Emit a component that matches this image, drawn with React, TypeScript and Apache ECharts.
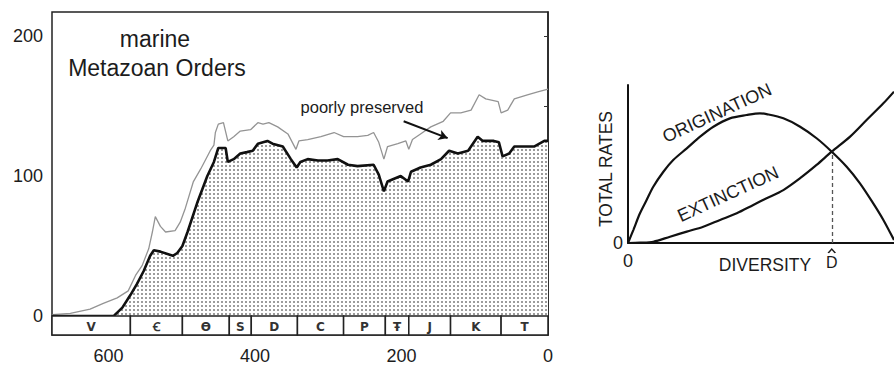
import React, { useEffect, useRef } from "react";
import * as echarts from "echarts";

// ---------- Left panel: marine Metazoan orders through time ----------
const ageTicks = [0, 200, 400, 600];
const orderTicks = [0, 50, 100, 150, 200];
const orderLabels = [0, 100, 200];

// [age (Ma), number of orders] – well-preserved (bold, stippled)
const wellPreserved: [number, number][] = [
  [677, 0], [593, 0], [581, 6], [570, 15], [561, 23], [552, 32], [543, 43], [538, 47],
  [529, 46], [512, 43], [506, 45], [499, 50], [492, 60], [478, 82], [465, 100], [456, 110],
  [450, 120], [440, 120], [437, 110], [429, 112], [420, 116], [411, 117], [403, 118],
  [396, 123], [383, 125], [376, 123], [362, 121], [351, 112], [343, 106], [338, 110],
  [328, 112], [314, 111], [301, 111], [287, 112], [273, 108], [260, 107], [238, 108],
  [231, 101], [224, 89], [219, 96], [210, 98], [201, 100], [191, 96], [187, 103],
  [174, 106], [160, 108], [146, 112], [135, 118], [123, 116], [109, 118], [96, 128],
  [89, 125], [74, 125], [67, 124], [62, 114], [53, 116], [46, 121], [33, 121], [19, 121],
  [5, 125], [0, 125],
];

// [age (Ma), number of orders] – including poorly preserved (thin grey)
const totalOrders: [number, number][] = [
  [677, 1], [652, 2], [625, 5], [607, 9], [588, 13], [573, 18], [563, 29], [554, 36],
  [545, 48], [540, 60], [536, 71], [529, 64], [522, 60], [509, 61], [502, 67], [495, 77],
  [484, 96], [474, 105], [461, 118], [456, 122], [454, 131], [450, 137], [443, 138],
  [437, 125], [429, 128], [420, 132], [406, 133], [396, 138], [389, 137], [381, 138],
  [369, 135], [355, 130], [344, 119], [340, 125], [328, 126], [310, 128], [292, 131],
  [279, 128], [260, 128], [246, 129], [238, 131], [231, 124], [224, 112], [219, 121],
  [205, 123], [194, 125], [190, 119], [185, 126], [174, 130], [160, 135], [143, 139],
  [133, 145], [119, 145], [105, 147], [94, 158], [85, 155], [68, 153], [64, 145],
  [55, 147], [46, 155], [27, 158], [14, 160], [0, 162],
];

const periodNames = ["V", "Ꞓ", "Ɵ", "S", "D", "C", "P", "Ŧ", "J", "K", "T"];
const periodStarts = [677, 570, 499, 435, 405, 342, 279, 222, 190, 133, 64];
const periodEnds = [570, 499, 435, 405, 342, 279, 222, 190, 133, 64, 0];

const arrowFrom: [number, number] = [197, 139];
const arrowTo: [number, number] = [137, 127];

// ---------- Right panel: origination / extinction vs diversity ----------
const originationPts: [number, number][] = [
  [0, 0], [2, 8.2], [4.5, 18.8], [7, 27.2], [9.5, 35.6], [13.3, 45.1], [17, 52.5],
  [22.1, 59.9], [27.1, 67.3], [32.1, 73.6], [38.3, 78.9], [44.6, 81.0], [49.6, 82.1],
  [52.1, 81.6], [58.4, 78.9], [64.7, 73.6], [70.9, 66.3], [76.6, 57.8], [82.2, 48.3],
  [87.2, 37.8], [92.2, 25.1], [96, 14.6], [100, 1.9],
];
const extinctionPts: [number, number][] = [
  [0, 0], [4.5, 0.2], [9.5, 0.8], [15.8, 4.0], [22.1, 7.2], [28.3, 10.3], [34.6, 14.6],
  [40.9, 18.8], [47.1, 24.1], [52.1, 28.3], [58.4, 33.5], [64.7, 41.0], [70.9, 49.4],
  [76.6, 57.8], [83.5, 67.3], [89.7, 77.8], [96, 88.4], [100, 95.8],
];
const equilibrium: [number, number] = [76.6, 57.8];

const BAND_BOTTOM = -13.5;
const TXT = "#1c1c1c";
const SANS = '"Liberation Sans", Arial, sans-serif';

export default function App() {
  const ref = useRef<HTMLDivElement>(null);

  useEffect(() => {
    if (!ref.current) return;
    const chart = echarts.init(ref.current, undefined, { renderer: "svg" });

    const tile = document.createElement("canvas");
    tile.width = 4;
    tile.height = 4;
    const ctx = tile.getContext("2d")!;
    ctx.fillStyle = "#ffffff";
    ctx.fillRect(0, 0, 4, 4);
    ctx.fillStyle = "#9c9c9c";
    ctx.fillRect(1, 1, 2, 2);

    const option: any = {
      animation: false,
      backgroundColor: "#ffffff",
      textStyle: { fontFamily: SANS },
      grid: [
        {
          left: 52, top: 12, width: 496, height: 325,
          show: true, borderColor: "#222", borderWidth: 1.5, backgroundColor: "transparent",
        },
        { left: 628, top: 85, width: 266, height: 158 },
      ],
      xAxis: [
        {
          gridIndex: 0, type: "value", min: 0, max: 677, inverse: true,
          axisLine: { show: false },
          splitLine: { show: false },
          axisTick: { show: true, length: 3, lineStyle: { color: "#333" }, customValues: [200, 400, 600] },
          axisLabel: {
            customValues: ageTicks, margin: 12, fontSize: 18, color: TXT, fontFamily: SANS,
            formatter: (v: number) => (ageTicks.includes(v) ? String(v) : ""),
          },
        },
        {
          gridIndex: 1, type: "value", min: 0, max: 100,
          axisLine: { show: true, onZero: false, lineStyle: { color: "#111", width: 2 } },
          splitLine: { show: false },
          axisTick: { show: false },
          axisLabel: {
            customValues: [0], margin: 9, fontSize: 18, color: TXT, fontFamily: SANS,
            formatter: (v: number) => (v === 0 ? "0" : ""),
          },
        },
      ],
      yAxis: [
        {
          gridIndex: 0, type: "value", min: BAND_BOTTOM, max: 217,
          axisLine: { show: true, lineStyle: { color: "#222", width: 1.5 } },
          splitLine: { show: false },
          axisTick: { show: true, length: 4, lineStyle: { color: "#333" }, customValues: orderTicks },
          axisLabel: {
            customValues: orderLabels, margin: 9, fontSize: 18, color: TXT, fontFamily: SANS,
            formatter: (v: number) => (orderLabels.includes(v) ? String(v) : ""),
          },
        },
        {
          gridIndex: 1, type: "value", min: 0, max: 100,
          axisLine: { show: true, onZero: false, lineStyle: { color: "#111", width: 2 } },
          splitLine: { show: false },
          axisTick: { show: false },
          axisLabel: {
            customValues: [0], margin: 5, fontSize: 18, color: TXT, fontFamily: SANS,
            formatter: (v: number) => (v === 0 ? "0" : ""),
          },
        },
      ],
      series: [
        {
          type: "custom",
          xAxisIndex: 0, yAxisIndex: 0,
          clip: false,
          z: 5,
          data: periodStarts.map((s, i) => [s, periodEnds[i], i]),
          encode: { x: [0, 1] },
          renderItem: (params: any, api: any) => {
            const s = api.value(0);
            const e = api.value(1);
            const idx = api.value(2);
            const p1 = api.coord([s, 0]);
            const p2 = api.coord([e, BAND_BOTTOM]);
            return {
              type: "group",
              children: [
                {
                  type: "rect",
                  shape: { x: p1[0], y: p1[1], width: p2[0] - p1[0], height: p2[1] - p1[1] },
                  style: { fill: "#ffffff", stroke: "#222", lineWidth: 1.5 },
                },
                {
                  type: "text",
                  style: {
                    text: periodNames[idx],
                    x: (p1[0] + p2[0]) / 2,
                    y: (p1[1] + p2[1]) / 2 + 1,
                    align: "center",
                    verticalAlign: "middle",
                    font: 'bold 12px "DejaVu Sans", sans-serif',
                    fill: "#333",
                  },
                },
              ],
            };
          },
        },
        {
          name: "total",
          type: "line",
          xAxisIndex: 0, yAxisIndex: 0,
          data: totalOrders,
          symbol: "none",
          lineStyle: { color: "#949494", width: 1.3 },
          z: 3,
          markLine: {
            silent: true,
            symbol: ["none", "arrow"],
            symbolSize: [8, 9],
            label: { show: false },
            lineStyle: { color: "#111", width: 2, type: "solid" },
            data: [[{ coord: arrowFrom }, { coord: arrowTo }]],
          },
        },
        {
          name: "well preserved",
          type: "line",
          xAxisIndex: 0, yAxisIndex: 0,
          data: wellPreserved,
          symbol: "none",
          lineStyle: { color: "#111", width: 2.6 },
          areaStyle: { origin: 0, color: { image: tile, repeat: "repeat" }, opacity: 1 },
          z: 4,
        },
        {
          name: "origination",
          type: "line",
          xAxisIndex: 1, yAxisIndex: 1,
          data: originationPts,
          smooth: 0.3,
          symbol: "none",
          clip: true,
          lineStyle: { color: "#111", width: 2.2 },
        },
        {
          name: "extinction",
          type: "line",
          xAxisIndex: 1, yAxisIndex: 1,
          data: extinctionPts,
          smooth: 0.3,
          symbol: "none",
          clip: false,
          lineStyle: { color: "#111", width: 2.2 },
          markLine: {
            silent: true,
            symbol: ["none", "none"],
            label: { show: false },
            lineStyle: { color: "#555", width: 1.3, type: [4, 3] },
            data: [[{ coord: [equilibrium[0], 0] }, { coord: equilibrium }]],
          },
          markPoint: {
            silent: true,
            data: [
              {
                coord: [equilibrium[0], 0],
                symbol: "circle",
                symbolSize: 0,
                label: {
                  show: true,
                  position: "bottom",
                  distance: 11,
                  formatter: "D",
                  fontSize: 16,
                  color: TXT,
                  fontFamily: SANS,
                },
              },
              {
                coord: [equilibrium[0], 0],
                symbol: "path://M0,6 L4,0 L8,6",
                symbolSize: [7, 4],
                symbolOffset: [0, 8],
                symbolKeepAspect: false,
                itemStyle: { color: "none", borderColor: TXT, borderWidth: 1.3 },
                label: { show: false },
              },
            ],
          },
        },
      ],
      graphic: [
        {
          type: "text", x: 155, y: 39,
          style: { text: "marine", font: `23px ${SANS}`, fill: TXT, align: "center", verticalAlign: "middle" },
        },
        {
          type: "text", x: 157, y: 68,
          style: { text: "Metazoan Orders", font: `23px ${SANS}`, fill: TXT, align: "center", verticalAlign: "middle" },
        },
        {
          type: "text", x: 362, y: 107,
          style: { text: "poorly preserved", font: `16.5px ${SANS}`, fill: TXT, align: "center", verticalAlign: "middle" },
        },
        {
          type: "text", x: 606, y: 169, rotation: Math.PI / 2,
          style: { text: "TOTAL RATES", font: `17.5px ${SANS}`, fill: TXT, align: "center", verticalAlign: "middle" },
        },
        {
          type: "text", x: 765, y: 265,
          style: { text: "DIVERSITY", font: `17.5px ${SANS}`, fill: TXT, align: "center", verticalAlign: "middle" },
        },
        {
          type: "text", x: 717, y: 113, rotation: 0.43,
          style: { text: "ORIGINATION", font: `18px ${SANS}`, fill: TXT, align: "center", verticalAlign: "middle" },
        },
        {
          type: "text", x: 728, y: 194, rotation: 0.43,
          style: { text: "EXTINCTION", font: `18px ${SANS}`, fill: TXT, align: "center", verticalAlign: "middle" },
        },
      ],
    };

    chart.setOption(option);
    return () => chart.dispose();
  }, []);

  return (
    <div
      ref={ref}
      style={{ position: "fixed", left: 0, top: 0, width: 894, height: 365, background: "#fff" }}
    />
  );
}
